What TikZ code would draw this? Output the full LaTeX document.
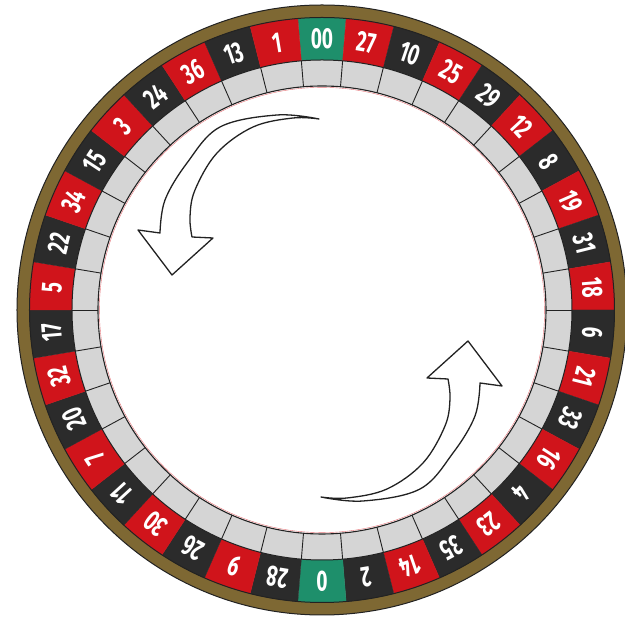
\documentclass[tikz,border=0pt]{standalone}
\usepackage{fontspec}
\newfontfamily\numfont[FakeStretch=0.66]{Fira Sans}
\definecolor{pr}{HTML}{D0141B}
\definecolor{pb}{HTML}{2B2B2B}
\definecolor{pg}{HTML}{1E8F6B}
\definecolor{gold}{HTML}{7E6833}
\definecolor{gry}{HTML}{D5D5D5}
\definecolor{ln}{HTML}{222222}
\begin{document}
\begin{tikzpicture}[x=1pt,y=1pt,
  num/.style={font=\numfont\bfseries\fontsize{29}{29}\selectfont, text=white, inner sep=0pt},
  sepline/.style={draw=ln, line width=0.9pt},
  ringline/.style={draw=ln, line width=1pt},
  arrowst/.style={draw=ln, line width=1.3pt, fill=white, line join=round}]
\useasboundingbox (-322,-307) rectangle (303,310);
\fill[gold, even odd rule] (0,0) circle (305pt) (0,0) circle (292pt);
\pgfmathsetmacro\h{180/38}
\foreach \n/\c [count=\i from 0] in {00/pg,27/pr,10/pb,25/pr,29/pb,12/pr,8/pb,19/pr,31/pb,18/pr,6/pb,21/pr,33/pb,16/pr,4/pb,23/pr,35/pb,14/pr,2/pb,0/pg,28/pb,9/pr,26/pb,30/pr,11/pb,7/pr,20/pb,32/pr,17/pb,5/pr,22/pb,34/pr,15/pb,3/pr,24/pb,36/pr,13/pb,1/pr} {
  \pgfmathsetmacro\a{90-\i*360/38}
  \fill[\c, draw=\c, line width=0.3pt] (\a-\h:250pt) arc[start angle=\a-\h, end angle=\a+\h, radius=250pt] -- (\a+\h:292.5pt) arc[start angle=\a+\h, end angle=\a-\h, radius=292.5pt] -- cycle;
  \node[num, rotate=\a-90] (p\i) at (\a:271pt) {\n};
}
\fill[gry, even odd rule] (0,0) circle (250pt) (0,0) circle (224pt);
\foreach \i in {0,...,37} {
  \pgfmathsetmacro\b{90-\h-\i*360/38}
  \draw[sepline] (\b:224pt) -- (\b:250pt);
}
\draw[ringline] (0,0) circle (250pt);
\draw[ringline, line width=1.1pt] (0,0) circle (224pt);
\draw[pr!60, line width=0.4pt] (0,0) circle (222.6pt);
\draw[ringline] (0,0) circle (305pt);
\draw[ringline] (0,0) circle (292.5pt);
\draw[arrowst] plot[smooth, tension=0.6] coordinates {(-3,191) (-45,195) (-102,183) (-135,147) (-157,110) (-162,77)} -- (-184,80) -- (-150,35) -- (-109,72) -- (-130,73) -- plot[smooth, tension=0.6] coordinates {(-130,73) (-132,93) (-127,120) (-105,157) (-69,183) (-29,192) (-3,191)} -- cycle;
\begin{scope}[rotate around={180:(-2,2)}]
\draw[arrowst] plot[smooth, tension=0.6] coordinates {(-3,191) (-45,195) (-102,183) (-135,147) (-157,110) (-162,77)} -- (-184,80) -- (-150,35) -- (-109,72) -- (-130,73) -- plot[smooth, tension=0.6] coordinates {(-130,73) (-132,93) (-127,120) (-105,157) (-69,183) (-29,192) (-3,191)} -- cycle;
\end{scope}
\end{tikzpicture}
\end{document}
